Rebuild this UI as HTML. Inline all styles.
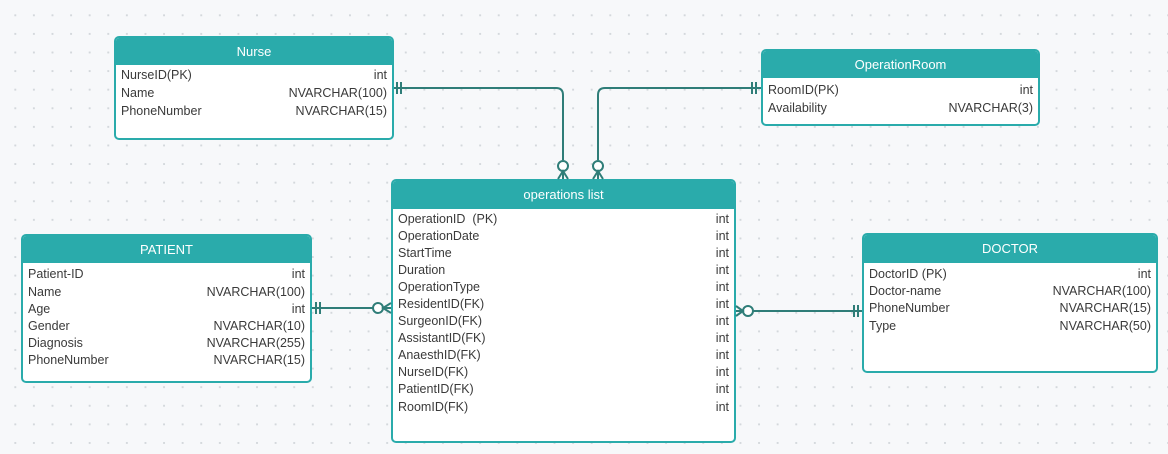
<!DOCTYPE html>
<html><head><meta charset="utf-8"><style>
body{margin:0;width:1168px;height:454px;overflow:hidden;background:#f7f8fa;background-image:radial-gradient(#d4d8dc 1px,transparent 1.2px);background-size:18.6px 18.6px;background-position:6px 6px;font-family:"Liberation Sans",sans-serif;position:relative}
.t{position:absolute;background:#fff;border:2px solid #2aabab;border-radius:5px;box-sizing:border-box;overflow:hidden}
.h{background:#2aabab;color:#fff;font-size:13px;text-align:center;font-weight:normal;box-sizing:border-box}
.r{position:absolute;left:5px;right:5px;font-size:12.5px;color:#3a3a3a;height:17px;line-height:17px}
.r span{float:right}
svg{position:absolute;left:0;top:0}
.wm{position:absolute;left:522px;top:384px;color:#d6d6d6;font-size:34px;font-weight:bold;font-family:"DejaVu Sans",sans-serif}
.wm2{position:absolute;left:524px;top:424px;color:#d6d6d6;font-size:15px}
</style></head><body>
<div class="wm">مستقل</div><div class="wm2">mostaql.com</div>
<div class="t" style="left:114px;top:36px;width:280px;height:104px"><div class="h" style="height:27px;line-height:27px">Nurse</div>
<div class="r" style="top:29px">NurseID(PK)<span>int</span></div>
<div class="r" style="top:47px">Name<span>NVARCHAR(100)</span></div>
<div class="r" style="top:65px">PhoneNumber<span>NVARCHAR(15)</span></div></div>

<div class="t" style="left:761px;top:49px;width:279px;height:77px"><div class="h" style="height:27px;line-height:27px">OperationRoom</div>
<div class="r" style="top:31px">RoomID(PK)<span>int</span></div>
<div class="r" style="top:49px">Availability<span>NVARCHAR(3)</span></div></div>

<div class="t" style="left:391px;top:179px;width:345px;height:264px"><div class="h" style="height:28px;line-height:28px">operations list</div>
<div class="r" style="top:30px">OperationID &nbsp;(PK)<span>int</span></div>
<div class="r" style="top:47px">OperationDate<span>int</span></div>
<div class="r" style="top:64px">StartTime<span>int</span></div>
<div class="r" style="top:81px">Duration<span>int</span></div>
<div class="r" style="top:98px">OperationType<span>int</span></div>
<div class="r" style="top:115px">ResidentID(FK)<span>int</span></div>
<div class="r" style="top:132px">SurgeonID(FK)<span>int</span></div>
<div class="r" style="top:149px">AssistantID(FK)<span>int</span></div>
<div class="r" style="top:166px">AnaesthID(FK)<span>int</span></div>
<div class="r" style="top:183px">NurseID(FK)<span>int</span></div>
<div class="r" style="top:200px">PatientID(FK)<span>int</span></div>
<div class="r" style="top:218px">RoomID(FK)<span>int</span></div></div>

<div class="t" style="left:21px;top:234px;width:291px;height:149px"><div class="h" style="height:27px;line-height:27px">PATIENT</div>
<div class="r" style="top:30px">Patient-ID<span>int</span></div>
<div class="r" style="top:48px">Name<span>NVARCHAR(100)</span></div>
<div class="r" style="top:65px">Age<span>int</span></div>
<div class="r" style="top:82px">Gender<span>NVARCHAR(10)</span></div>
<div class="r" style="top:99px">Diagnosis<span>NVARCHAR(255)</span></div>
<div class="r" style="top:116px">PhoneNumber<span>NVARCHAR(15)</span></div></div>

<div class="t" style="left:862px;top:233px;width:296px;height:140px"><div class="h" style="height:28px;line-height:28px">DOCTOR</div>
<div class="r" style="top:31px">DoctorID (PK)<span>int</span></div>
<div class="r" style="top:48px">Doctor-name<span>NVARCHAR(100)</span></div>
<div class="r" style="top:65px">PhoneNumber<span>NVARCHAR(15)</span></div>
<div class="r" style="top:83px">Type<span>NVARCHAR(50)</span></div></div>

<svg width="1168" height="454" fill="none" stroke="#2f7d78" stroke-width="2">
<path d="M394 88 H556 Q563 88 563 95 V160"/>
<path d="M397 82 V94 M401 82 V94"/>
<circle cx="563" cy="166" r="5" fill="#fff"/>
<path d="M563 171 V179 M558 179 L563 171 L568 179"/>
<path d="M761 88 H605 Q598 88 598 95 V160"/>
<path d="M756 82 V94 M752 82 V94"/>
<circle cx="598" cy="166" r="5" fill="#fff"/>
<path d="M598 171 V179 M593 179 L598 171 L603 179"/>
<path d="M312 308 H373"/>
<path d="M316 302 V314 M320 302 V314"/>
<circle cx="378" cy="308" r="5" fill="#fff"/>
<path d="M383 308 H391 M391 303 L383 308 L391 313"/>
<path d="M753 311 H862"/>
<path d="M858 305 V317 M854 305 V317"/>
<circle cx="748" cy="311" r="5" fill="#fff"/>
<path d="M743 311 H736 M736 306 L743 311 L736 316"/>
</svg>
</body></html>
